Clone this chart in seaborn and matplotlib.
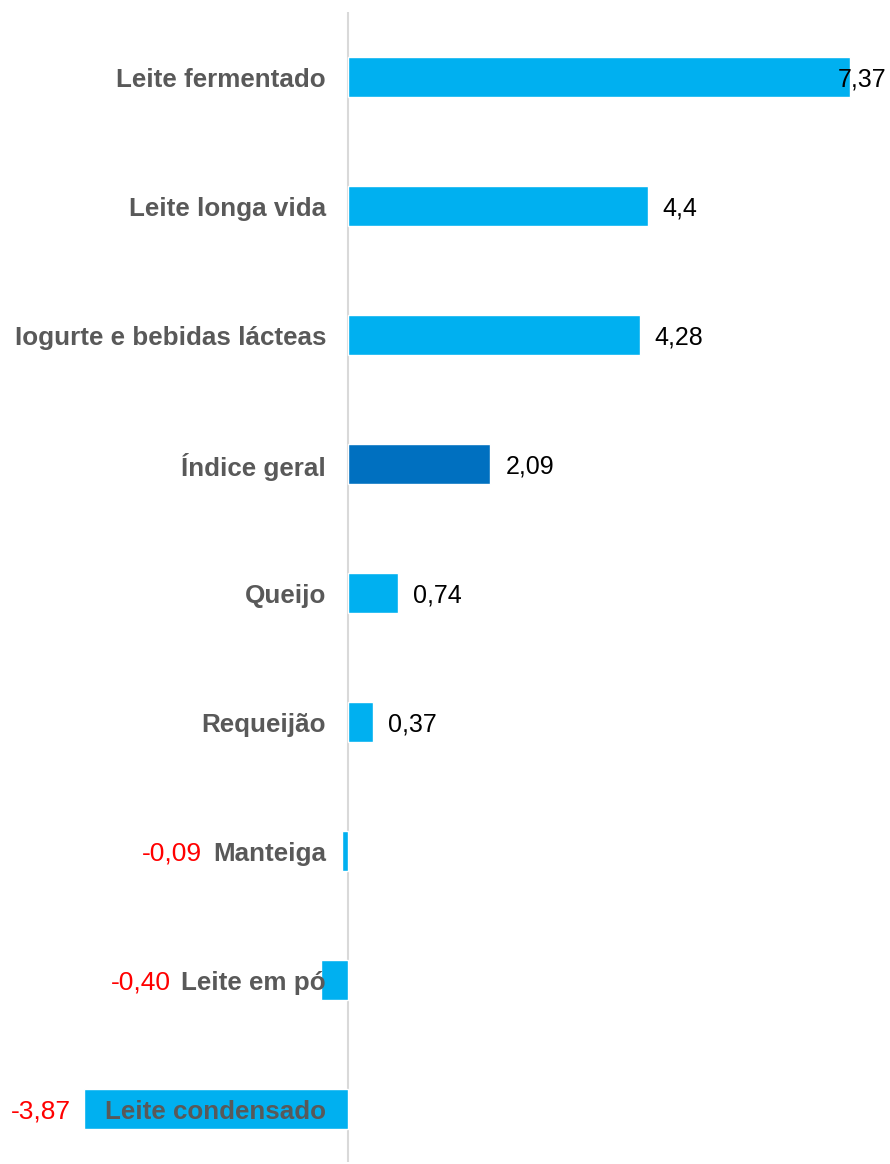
import matplotlib
matplotlib.use("Agg")
import matplotlib.pyplot as plt
import seaborn as sns
import pandas as pd

# Variação de preços por produto lácteo (%)
categorias = ["Leite fermentado", "Leite longa vida", "Iogurte e bebidas lácteas",
              "Índice geral", "Queijo", "Requeijão", "Manteiga", "Leite em pó",
              "Leite condensado"]
valores = [7.37, 4.4, 4.28, 2.09, 0.74, 0.37, -0.09, -0.40, -3.87]
destaque = [False, False, False, True, False, False, False, False, False]

COR_BARRA = "#00B0F0"
COR_INDICE = "#0070C0"
COR_ROTULO = "#595959"

sns.set_theme(style="white")
plt.rcParams["font.family"] = ["Liberation Sans", "DejaVu Sans"]

df = pd.DataFrame({"categoria": categorias, "valor": valores,
                   "grupo": ["indice" if d else "produto" for d in destaque]})

W, H, DPI = 890, 1164, 100
fig = plt.figure(figsize=(W / DPI, H / DPI), dpi=DPI)
ax = fig.add_axes([0, 2 / H, 1, (1162 - 12) / H])

sns.barplot(data=df, y="categoria", x="valor", hue="grupo", orient="h",
            palette={"produto": COR_BARRA, "indice": COR_INDICE},
            width=0.31, dodge=False, legend=False, ax=ax, saturation=1)

px_per_unit = 68.15
zero_px = 348
ax.set_xlim(-zero_px / px_per_unit, (W - zero_px) / px_per_unit)
ax.set_ylim(8.41, -0.504)

for s in ["top", "right", "bottom", "left"]:
    ax.spines[s].set_visible(False)
ax.axvline(0, color="#D9D9D9", lw=1.5, zorder=0)
ax.set_xticks([])
ax.set_yticks([])
ax.set_xlabel("")
ax.set_ylabel("")


def fmt(v):
    if v < 0:
        return f"{v:.2f}".replace(".", ",")
    return f"{v:g}".replace(".", ",")


label_x = -22 / px_per_unit
rotulos = []
for i, nome in enumerate(categorias):
    t = ax.text(label_x, i, nome, ha="right", va="center_baseline", fontsize=18.7,
                fontweight="bold", color=COR_ROTULO, zorder=5)
    rotulos.append(t)

fig.canvas.draw()
renderer = fig.canvas.get_renderer()
inv = ax.transData.inverted()
xmax = ax.get_xlim()[1]

for i, v in enumerate(valores):
    if v >= 0:
        t = ax.text(v + 15 / px_per_unit, i, fmt(v), ha="left", va="center_baseline",
                    fontsize=18, color="black", zorder=6)
        bb = t.get_window_extent(renderer)
        right = inv.transform((bb.x1, 0))[0]
        if right > xmax:
            t.set_ha("right")
            t.set_x(xmax - 4 / px_per_unit)
    else:
        bb = rotulos[i].get_window_extent(renderer)
        left = inv.transform((bb.x0, 0))[0]
        if v < left:
            pos = v - 13 / px_per_unit
        else:
            pos = left - 11 / px_per_unit
        ax.text(pos, i, fmt(v), ha="right", va="center_baseline", fontsize=19,
                color="#FF0000", zorder=6)

fig.savefig("out.png", dpi=DPI, facecolor="white")
